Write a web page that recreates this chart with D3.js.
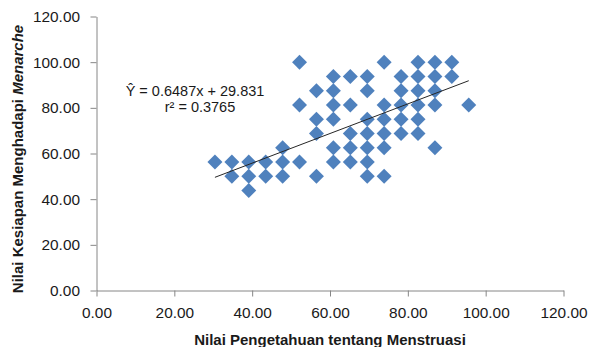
<!DOCTYPE html>
<html>
<head>
<meta charset="utf-8">
<script src="https://cdn.jsdelivr.net/npm/d3@7"></script>
<style>
  html, body { margin: 0; padding: 0; background: #fff; }
  svg { display: block; font-family: "Liberation Sans", Arial, sans-serif; }
  .axis path, .axis line { stroke: #868686; }
  .axis text { fill: #1a1a1a; font-size: 15.4px; }
</style>
</head>
<body>
<svg id="chart" width="590" height="347"></svg>
<script>
// x: Nilai Pengetahuan tentang Menstruasi, y: Nilai Kesiapan Menghadapi Menarche
const knowledge = [
  52.17, 73.91, 82.61, 86.96, 91.30,
  60.87, 65.22, 69.57, 78.26, 82.61, 86.96, 91.30,
  56.52, 60.87, 69.57, 78.26, 82.61, 86.96,
  52.17, 60.87, 65.22, 73.91, 78.26, 82.61, 86.96, 95.65,
  56.52, 60.87, 69.57, 73.91, 78.26, 82.61,
  56.52, 65.22, 69.57, 73.91, 78.26, 82.61,
  47.83, 60.87, 65.22, 69.57, 73.91, 86.96,
  30.43, 34.78, 39.13, 43.48, 47.83, 52.17, 60.87, 65.22, 69.57,
  34.78, 39.13, 43.48, 47.83, 56.52, 69.57, 73.91,
  39.13
];
const readiness = [
  100, 100, 100, 100, 100,
  93.75, 93.75, 93.75, 93.75, 93.75, 93.75, 93.75,
  87.5, 87.5, 87.5, 87.5, 87.5, 87.5,
  81.25, 81.25, 81.25, 81.25, 81.25, 81.25, 81.25, 81.25,
  75, 75, 75, 75, 75, 75,
  68.75, 68.75, 68.75, 68.75, 68.75, 68.75,
  62.5, 62.5, 62.5, 62.5, 62.5, 62.5,
  56.25, 56.25, 56.25, 56.25, 56.25, 56.25, 56.25, 56.25, 56.25,
  50, 50, 50, 50, 50, 50, 50,
  43.75
];
const xTicks = [0, 20, 40, 60, 80, 100, 120];
const yTicks = [0, 20, 40, 60, 80, 100, 120];
const slope = 0.6487;
const intercept = 29.831;
const eqLabel = "Ŷ = 0.6487x + 29.831";
const r2Label = "r² = 0.3765";

const svg = d3.select("#chart");
const fmt = d3.format(".2f");

const x = d3.scaleLinear().domain([0, 120]).range([96.5, 563.5]);
const y = d3.scaleLinear().domain([0, 120]).range([290.5, 16.5]);

// axes
svg.append("g")
  .attr("class", "axis")
  .attr("transform", `translate(0,${y(0)})`)
  .call(d3.axisBottom(x).tickValues(xTicks).tickFormat(fmt).tickSize(6).tickSizeOuter(0).tickPadding(10.5));

svg.append("g")
  .attr("class", "axis")
  .attr("transform", `translate(${x(0)},0)`)
  .call(d3.axisLeft(y).tickValues(yTicks).tickFormat(fmt).tickSize(6).tickSizeOuter(0).tickPadding(10.5));

// points
const pts = knowledge.map((k, i) => [k, readiness[i]]);
const diamond = d3.symbol().type(d3.symbolSquare).size(112);
svg.append("g")
  .selectAll("path")
  .data(pts)
  .join("path")
  .attr("d", diamond)
  .attr("fill", "#4F81BD")
  .attr("transform", d => `translate(${x(d[0])},${y(d[1])}) rotate(45)`);

// trendline
const xr = d3.extent(knowledge);
svg.append("line")
  .attr("x1", x(xr[0])).attr("y1", y(slope * xr[0] + intercept))
  .attr("x2", x(xr[1])).attr("y2", y(slope * xr[1] + intercept))
  .attr("stroke", "#262626")
  .attr("stroke-width", 1);

// equation
svg.append("text")
  .attr("x", 195).attr("y", 95.5)
  .attr("text-anchor", "middle")
  .attr("font-size", 14.5)
  .attr("fill", "#1a1a1a")
  .text(eqLabel);
svg.append("text")
  .attr("x", 200).attr("y", 112)
  .attr("text-anchor", "middle")
  .attr("font-size", 14.5)
  .attr("fill", "#1a1a1a")
  .text(r2Label);

// axis titles
svg.append("text")
  .attr("x", 330).attr("y", 345)
  .attr("text-anchor", "middle")
  .attr("font-size", 15)
  .attr("font-weight", "bold")
  .attr("fill", "#1a1a1a")
  .text("Nilai Pengetahuan tentang Menstruasi");

const yt = svg.append("text")
  .attr("transform", "translate(23,159) rotate(-90)")
  .attr("text-anchor", "middle")
  .attr("font-size", 15)
  .attr("font-weight", "bold")
  .attr("fill", "#1a1a1a");
yt.append("tspan").text("Nilai Kesiapan Menghadapi ");
yt.append("tspan").attr("font-style", "italic").text("Menarche");
</script>
</body>
</html>
